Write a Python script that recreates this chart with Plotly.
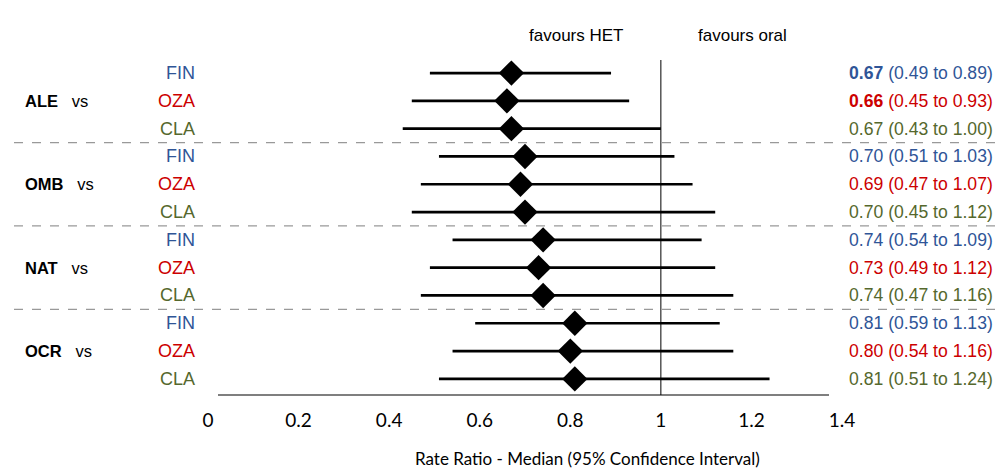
import plotly.graph_objects as go

# ---- data ----
groups = ["ALE", "OMB", "NAT", "OCR"]
comparators = ["FIN", "OZA", "CLA"]
medians = [0.67, 0.66, 0.67, 0.70, 0.69, 0.70, 0.74, 0.73, 0.74, 0.81, 0.80, 0.81]
lower = [0.49, 0.45, 0.43, 0.51, 0.47, 0.45, 0.54, 0.49, 0.47, 0.59, 0.54, 0.51]
upper = [0.89, 0.93, 1.00, 1.03, 1.07, 1.12, 1.09, 1.12, 1.16, 1.13, 1.16, 1.24]
bold_est = [True, True, False, False, False, False, False, False, False, False, False, False]
tick_vals = [0, 0.2, 0.4, 0.6, 0.8, 1.0, 1.2, 1.4]
tick_text = ["0", "0.2", "0.4", "0.6", "0.8", "1", "1.2", "1.4"]
x_title = "Rate Ratio - Median (95% Confidence Interval)"
favour_left = "favours HET"
favour_right = "favours oral"

comp_colors = {"FIN": "#2F5597", "OZA": "#CC0000", "CLA": "#55682D"}

rows = list(range(len(medians)))
OFF = 8  # page body margin
W, H = 1004, 471
# target page pixels: plot x from 208 to 842, y from 60 to 395
L = 208 - OFF
R = W - (842 - OFF)
T = 60 - OFF
B = H - (395 - OFF)
plot_w = W - L - R
plot_h = H - T - B


def px_x(p):
    return (p - OFF - L) / plot_w


def px_y(p):
    return (H - B - (p - OFF)) / plot_h


fig = go.Figure()
fig.add_trace(go.Scatter(
    x=medians, y=rows, mode="markers",
    marker=dict(symbol="diamond", size=19.5, color="black"),
    error_x=dict(type="data", symmetric=False,
                 array=[u - m for u, m in zip(upper, medians)],
                 arrayminus=[m - l for m, l in zip(medians, lower)],
                 color="black", thickness=2.7, width=0),
    cliponaxis=False, showlegend=False, hoverinfo="skip",
))

LABEL_FONT = "Liberation Sans, Arial, sans-serif"
TICK_FONT = "Lato, Carlito, sans-serif"
annotations = []
shapes = []

for gi, g in enumerate(groups):
    annotations.append(dict(
        x=px_x(23), xref="paper", y=gi * 3 + 1, yref="y",
        text=f"<b>{g}</b>\u00a0\u00a0\u00a0vs", showarrow=False,
        xanchor="left", yanchor="middle",
        font=dict(family=LABEL_FONT, size=16.5, color="black")))
    for ci, c in enumerate(comparators):
        r = gi * 3 + ci
        col = comp_colors[c]
        annotations.append(dict(
            x=px_x(197), xref="paper", y=r, yref="y", text=c,
            showarrow=False, xanchor="right", yanchor="middle",
            font=dict(family=LABEL_FONT, size=18, color=col)))
        est = f"{medians[r]:.2f}"
        if bold_est[r]:
            est = f"<b>{est}</b>"
        annotations.append(dict(
            x=px_x(847), xref="paper", y=r, yref="y",
            text=f"{est} ({lower[r]:.2f} to {upper[r]:.2f})",
            showarrow=False, xanchor="left", yanchor="middle",
            font=dict(family=LABEL_FONT, size=17.6, color=col)))
    if gi > 0:
        shapes.append(dict(type="line", xref="paper", yref="y",
                           x0=px_x(14), x1=px_x(1004), y0=gi * 3 - 0.5, y1=gi * 3 - 0.5,
                           line=dict(color="#999999", width=1.2, dash="dash")))

annotations.append(dict(x=px_x(576), xref="paper", y=px_y(35), yref="paper",
                        text=favour_left, showarrow=False, xanchor="center", yanchor="middle",
                        font=dict(family=LABEL_FONT, size=17, color="black")))
annotations.append(dict(x=px_x(742), xref="paper", y=px_y(35), yref="paper",
                        text=favour_right, showarrow=False, xanchor="center", yanchor="middle",
                        font=dict(family=LABEL_FONT, size=17, color="black")))
annotations.append(dict(x=px_x(587), xref="paper", y=px_y(458), yref="paper",
                        text=x_title, showarrow=False, xanchor="center", yanchor="middle",
                        font=dict(family=TICK_FONT, size=17, color="black")))

# reference line at 1 and axis line
shapes.append(dict(type="line", xref="x", yref="paper", x0=1, x1=1, y0=0, y1=1,
                   line=dict(color="black", width=1), layer="below"))
shapes.append(dict(type="line", xref="paper", yref="paper", x0=px_x(218), x1=px_x(829),
                   y0=0, y1=0, line=dict(color="black", width=1.2)))

fig.update_layout(
    width=W, height=H,
    margin=dict(l=L, r=R, t=T, b=B, pad=0),
    paper_bgcolor="white", plot_bgcolor="white",
    xaxis=dict(range=[0, 1.4], tickvals=tick_vals, ticktext=tick_text,
               showgrid=False, zeroline=False, showline=False, ticks="",
               ticklabelstandoff=12,
               tickfont=dict(family=TICK_FONT, size=19, color="black")),
    yaxis=dict(range=[11.58, -0.47], showgrid=False, zeroline=False,
               showticklabels=False, showline=False, ticks=""),
    annotations=annotations, shapes=shapes,
)

fig.write_html("out.html")
